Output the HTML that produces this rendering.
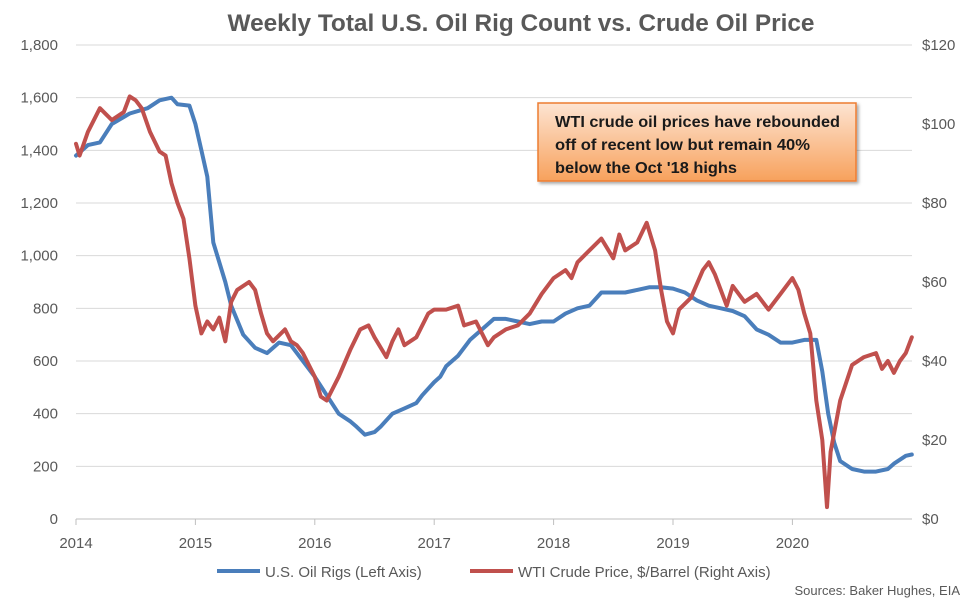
<!DOCTYPE html>
<html><head><meta charset="utf-8"><style>
body{margin:0;background:#fff;width:975px;height:601px;overflow:hidden;font-family:"Liberation Sans",Arial,sans-serif}
</style></head><body>
<svg id="s" width="975" height="601" xmlns="http://www.w3.org/2000/svg" font-family="Liberation Sans, Arial, sans-serif">
<text x="521" y="31" text-anchor="middle" font-size="24" font-weight="bold" fill="#595959" textLength="587" lengthAdjust="spacingAndGlyphs">Weekly Total U.S. Oil Rig Count vs. Crude Oil Price</text>
<g id="grid" stroke="#d9d9d9" stroke-width="1"></g>
<g id="lab" font-size="15" fill="#595959"></g>
<line x1="76" y1="519" x2="912" y2="519" stroke="#bfbfbf"/>
<g id="ser" fill="none" stroke-width="4" stroke-linejoin="round" stroke-linecap="round"></g>
<defs><linearGradient id="g" x1="0" y1="0" x2="0" y2="1"><stop offset="0" stop-color="#fde4d2"/><stop offset="1" stop-color="#f7a15c"/></linearGradient>
<filter id="sh"><feDropShadow dx="2" dy="2" stdDeviation="1.5" flood-opacity="0.35"/></filter></defs>
<rect x="538" y="103" width="318" height="78" fill="url(#g)" stroke="#ed7d31" stroke-width="1.5" filter="url(#sh)"/>
<g font-size="16" font-weight="bold" fill="#1a1a1a">
<text x="555" y="127" textLength="285" lengthAdjust="spacingAndGlyphs">WTI crude oil prices have rebounded</text>
<text x="555" y="150" textLength="255" lengthAdjust="spacingAndGlyphs">off of recent low but remain 40%</text>
<text x="555" y="173" textLength="182" lengthAdjust="spacingAndGlyphs">below the Oct '18 highs</text></g>
<line x1="217" y1="571" x2="260" y2="571" stroke="#4a7ebb" stroke-width="4"/>
<text x="265" y="577" font-size="15" fill="#595959">U.S. Oil Rigs (Left Axis)</text>
<line x1="470" y1="571" x2="513" y2="571" stroke="#c0504d" stroke-width="4"/>
<text x="518" y="577" font-size="15" fill="#595959">WTI Crude Price, $/Barrel (Right Axis)</text>
<text x="960" y="595" text-anchor="end" font-size="13" fill="#595959">Sources: Baker Hughes, EIA</text>
</svg>
<script>
var X=function(t){return 76+(t-2014)*119.4},YL=function(v){return 519-v*474/1800},YR=function(v){return 519-v*474/120};
var g=document.getElementById('grid'),l=document.getElementById('lab'),h='',k='';
for(var i=1;i<=9;i++){var y=YL(i*200);h+='<line x1="76" x2="912" y1="'+y+'" y2="'+y+'"/>';}
for(var i=0;i<=9;i++){var y=YL(i*200);k+='<text x="58" y="'+(y+5)+'" text-anchor="end">'+(i*200).toLocaleString('en-US')+'</text>';}
for(var i=0;i<=6;i++){var y=YR(i*20);k+='<text x="922" y="'+(y+5)+'">$'+(i*20)+'</text>';}
for(var i=0;i<=6;i++){var x=X(2014+i);k+='<text x="'+x+'" y="548" text-anchor="middle">'+(2014+i)+'</text><line x1="'+x+'" x2="'+x+'" y1="519" y2="525" stroke="#bfbfbf"/>';}
g.innerHTML=h;l.innerHTML=k;
var B=[[2014,1380],[2014.1,1420],[2014.2,1430],[2014.3,1500],[2014.45,1540],[2014.6,1560],[2014.7,1590],[2014.8,1600],[2014.85,1575],[2014.95,1570],[2015,1500],[2015.05,1400],[2015.1,1300],[2015.15,1050],[2015.25,900],[2015.3,810],[2015.4,700],[2015.5,650],[2015.6,630],[2015.7,670],[2015.8,660],[2015.9,600],[2016,540],[2016.1,470],[2016.2,400],[2016.3,370],[2016.35,350],[2016.42,320],[2016.5,330],[2016.55,350],[2016.65,400],[2016.75,420],[2016.85,440],[2016.9,470],[2017,520],[2017.05,540],[2017.1,580],[2017.2,620],[2017.3,680],[2017.4,720],[2017.5,760],[2017.6,760],[2017.7,750],[2017.8,740],[2017.9,750],[2018,750],[2018.1,780],[2018.2,800],[2018.3,810],[2018.4,860],[2018.5,860],[2018.6,860],[2018.7,870],[2018.8,880],[2018.9,880],[2019,875],[2019.1,860],[2019.2,830],[2019.3,810],[2019.4,800],[2019.5,790],[2019.6,770],[2019.7,720],[2019.8,700],[2019.9,670],[2020,670],[2020.1,680],[2020.2,680],[2020.25,560],[2020.3,400],[2020.35,290],[2020.4,220],[2020.5,190],[2020.6,180],[2020.7,180],[2020.8,190],[2020.85,210],[2020.95,240],[2021,245]];
var R=[[2014,95],[2014.03,92],[2014.1,98],[2014.2,104],[2014.3,101],[2014.4,103],[2014.45,107],[2014.5,106],[2014.55,104],[2014.62,98],[2014.7,93],[2014.75,92],[2014.8,85],[2014.85,80],[2014.9,76],[2014.95,66],[2015,54],[2015.05,47],[2015.1,50],[2015.15,48],[2015.2,51],[2015.25,45],[2015.3,55],[2015.35,58],[2015.45,60],[2015.5,58],[2015.55,52],[2015.6,47],[2015.65,45],[2015.75,48],[2015.8,45],[2015.85,44],[2015.9,42],[2016,36],[2016.05,31],[2016.1,30],[2016.2,36],[2016.3,43],[2016.38,48],[2016.45,49],[2016.5,46],[2016.6,41],[2016.65,45],[2016.7,48],[2016.75,44],[2016.85,46],[2016.95,52],[2017,53],[2017.1,53],[2017.2,54],[2017.25,49],[2017.35,50],[2017.45,44],[2017.5,46],[2017.6,48],[2017.7,49],[2017.8,52],[2017.9,57],[2018,61],[2018.1,63],[2018.15,61],[2018.2,65],[2018.3,68],[2018.4,71],[2018.5,66],[2018.55,72],[2018.6,68],[2018.7,70],[2018.78,75],[2018.85,68],[2018.9,58],[2018.95,50],[2019,47],[2019.05,53],[2019.15,56],[2019.25,63],[2019.3,65],[2019.35,62],[2019.45,54],[2019.5,59],[2019.6,55],[2019.7,57],[2019.75,55],[2019.8,53],[2019.9,57],[2020,61],[2020.05,58],[2020.1,52],[2020.15,47],[2020.2,30],[2020.25,20],[2020.29,3],[2020.32,17],[2020.4,30],[2020.5,39],[2020.6,41],[2020.7,42],[2020.75,38],[2020.8,40],[2020.85,37],[2020.9,40],[2020.95,42],[2021,46]];
function p(a,f){return 'M'+a.map(function(d){return X(d[0]).toFixed(1)+','+f(d[1]).toFixed(1)}).join(' L');}
document.getElementById('ser').innerHTML='<path d="'+p(B,YL)+'" stroke="#4a7ebb"/><path d="'+p(R,YR)+'" stroke="#c0504d"/>';
</script>
</body></html>
